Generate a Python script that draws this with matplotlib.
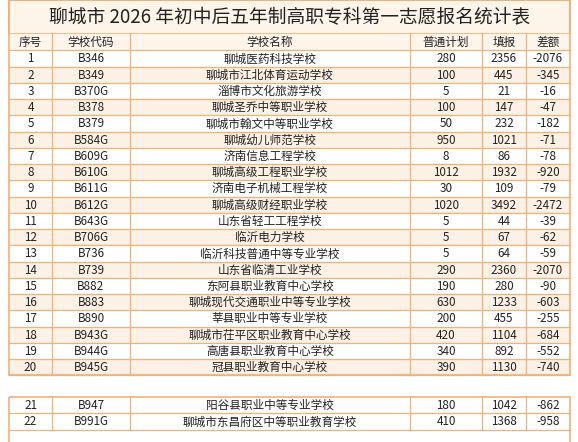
import matplotlib
matplotlib.use("Agg")
import matplotlib.pyplot as plt
from matplotlib.patches import Rectangle

plt.rcParams['font.family'] = ['Noto Sans CJK SC', 'DejaVu Sans']

title = "聊城市 2026 年初中后五年制高职专科第一志愿报名统计表"
headers = ["序号", "学校代码", "学校名称", "普通计划", "填报", "差额"]
codes = ["B346","B349","B370G","B378","B379","B584G","B609G","B610G","B611G","B612G",
         "B643G","B706G","B736","B739","B882","B883","B890","B943G","B944G","B945G",
         "B947","B991G"]
names = ["聊城医药科技学校","聊城市江北体育运动学校","淄博市文化旅游学校","聊城圣乔中等职业学校",
         "聊城市翰文中等职业学校","聊城幼儿师范学校","济南信息工程学校","聊城高级工程职业学校",
         "济南电子机械工程学校","聊城高级财经职业学校","山东省轻工工程学校","临沂电力学校",
         "临沂科技普通中等专业学校","山东省临清工业学校","东阿县职业教育中心学校",
         "聊城现代交通职业中等专业学校","莘县职业中等专业学校","聊城市茌平区职业教育中心学校",
         "高唐县职业教育中心学校","冠县职业教育中心学校","阳谷县职业中等专业学校",
         "聊城市东昌府区中等职业教育学校"]
plan = [280,100,5,100,50,950,8,1012,30,1020,5,5,5,290,190,630,200,420,340,390,180,410]
filled = [2356,445,21,147,232,1021,86,1932,109,3492,44,67,64,2360,280,1233,455,1104,892,1130,1042,1368]
diff = [-2076,-345,-16,-47,-182,-71,-78,-920,-79,-2472,-39,-62,-59,-2070,-90,-603,-255,-684,-552,-740,-862,-958]

W, H = 578, 442
fig = plt.figure(figsize=(W/100, H/100), dpi=100)
ax = fig.add_axes([0, 0, 1, 1])
ax.set_xlim(0, W); ax.set_ylim(H, 0); ax.axis('off')
fig.patch.set_facecolor('white')

edge = '#eeb27a'
shade = '#fdf0e4'
cols = [9, 52, 130, 410, 482, 526, 570]
L, R = cols[0], cols[-1]
rh = 16.25

ax.add_patch(Rectangle((L, 0), R-L, 34, facecolor='#fdf4ea', edgecolor=edge, lw=1.2))
ax.text((L+R)/2, 18, title, ha='center', va='center', fontsize=13.5, color='#222222')

def row(y, vals, fill, fs=8.4):
    ax.add_patch(Rectangle((L, y), R-L, rh, facecolor=fill, edgecolor='none'))
    ax.plot([L, R], [y+rh, y+rh], color=edge, lw=0.9)
    for i, v in enumerate(vals):
        ax.text((cols[i]+cols[i+1])/2, y+rh/2+0.5, str(v), ha='center', va='center',
                fontsize=fs, color='#222222')

def frame(y0, y1):
    ax.add_patch(Rectangle((L, y0), R-L, y1-y0, facecolor='none', edgecolor=edge, lw=1.2))

row(34, headers, '#fdf4ea', 8.4)
for c in cols[1:-1]:
    ax.plot([c, c], [34, 34+rh*21], color=edge, lw=0.9)
for k in range(20):
    yy = 34 + rh*(k+1)
    row(yy, [k+1, codes[k], names[k], plan[k], filled[k], diff[k]],
        shade if k % 2 == 1 else 'white')
frame(0, 34+rh*21)

y2 = 397
for j, k in enumerate(range(20, 22)):
    yy = y2 + rh*j
    row(yy, [k+1, codes[k], names[k], plan[k], filled[k], diff[k]], 'white')
for c in cols[1:-1]:
    ax.plot([c, c], [y2, y2+rh*2], color=edge, lw=0.9)
frame(y2, H+5)

fig.savefig('out.png', dpi=100)
